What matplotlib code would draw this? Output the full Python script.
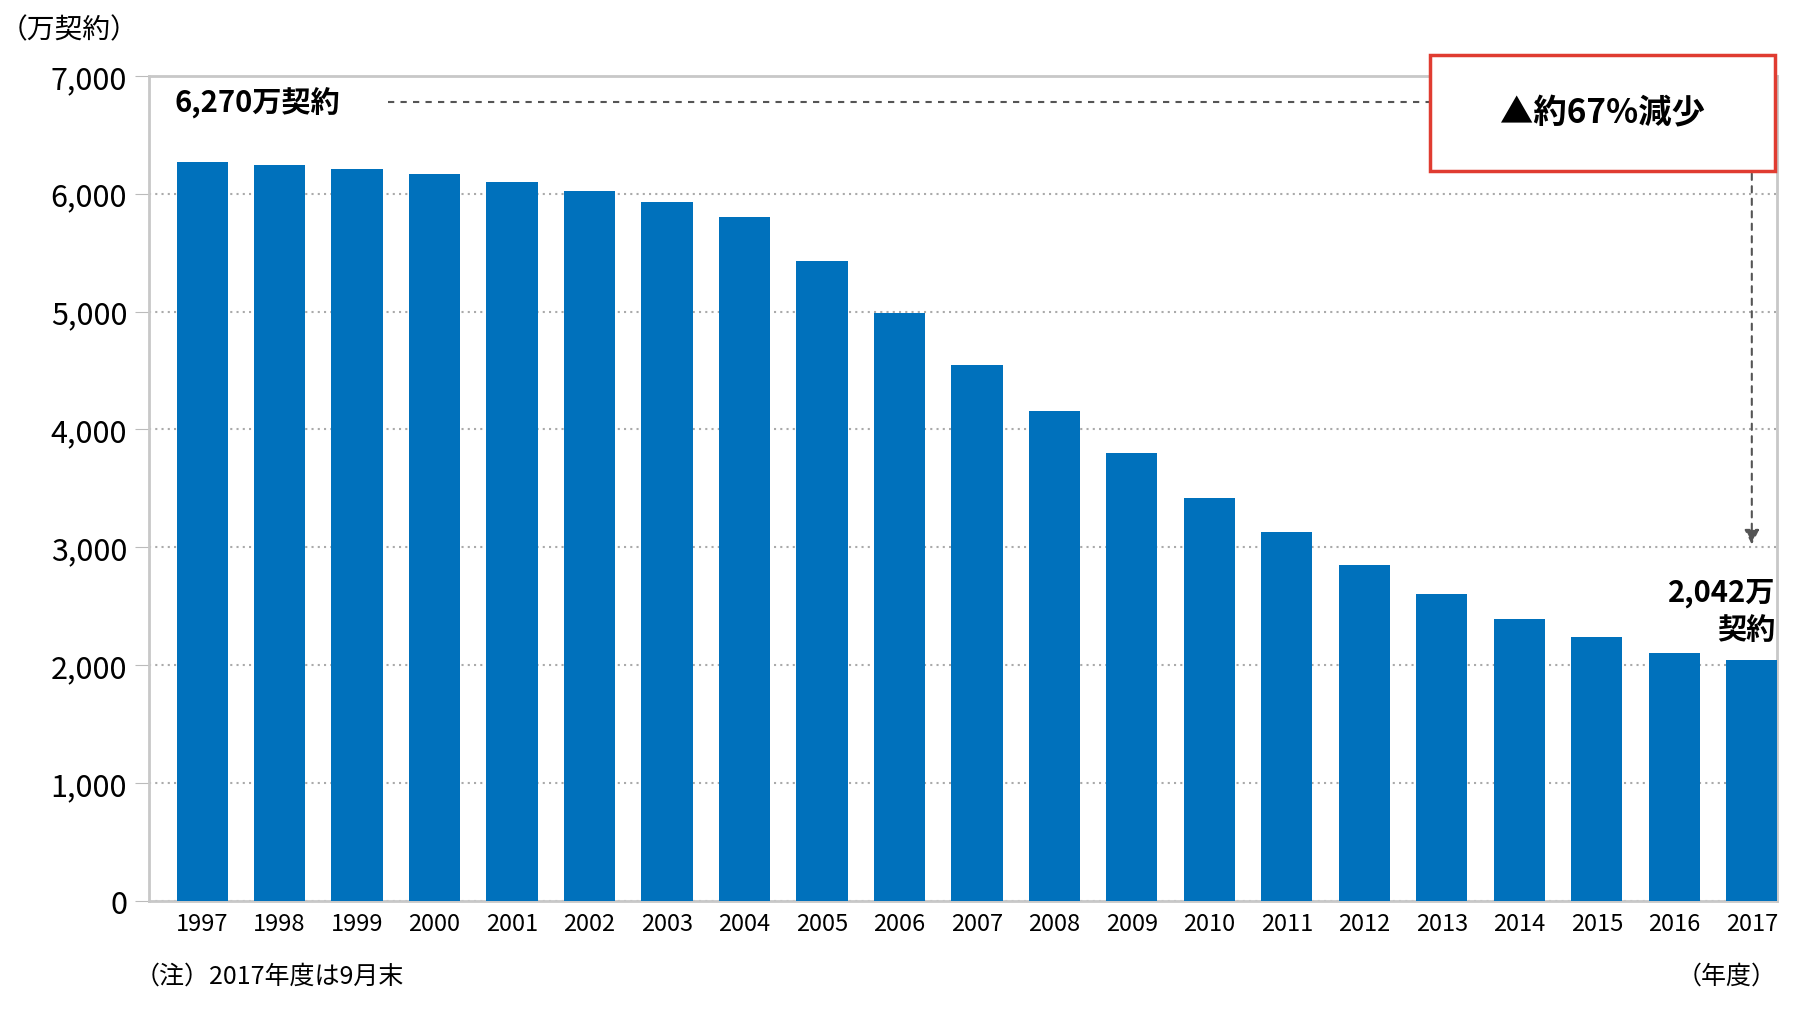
import matplotlib
matplotlib.use("Agg")
import matplotlib.pyplot as plt
from matplotlib.patches import Rectangle

plt.rcParams['font.family'] = ['Noto Sans CJK JP', 'DejaVu Sans']

years = [str(y) for y in range(1997, 2018)]
values = [6270, 6240, 6210, 6170, 6100, 6020, 5930, 5800, 5430, 4990, 4550,
          4160, 3800, 3420, 3130, 2850, 2600, 2390, 2240, 2100, 2042]
yticks = [0, 1000, 2000, 3000, 4000, 5000, 6000, 7000]

fig = plt.figure(figsize=(18, 10.12), dpi=100)
ax = fig.add_axes([0.083, 0.109, 0.904, 0.815])
x = list(range(len(years)))
ax.bar(x, values, width=0.66, color="#0071bc", zorder=3)
ax.set_xlim(-0.68, len(years) - 0.68)
ax.set_ylim(0, 7000)
ax.set_yticks(yticks)
ax.set_yticklabels([f"{v:,}" for v in yticks], fontsize=22)
ax.set_xticks(x)
ax.set_xticklabels(years, fontsize=17, stretch="condensed")
ax.tick_params(axis="y", length=10, color="#bbbbbb", pad=6)
ax.tick_params(axis="x", length=0, pad=8)
for s in ax.spines.values():
    s.set_color("#c8c8c8")
    s.set_linewidth(2)
ax.yaxis.grid(True, linestyle=(0, (1, 2)), color="#aaaaaa", linewidth=1.5, zorder=0)

# annotations
ax.text(-0.35, 6780, "6,270万契約", fontsize=21, fontweight="bold", va="center")
ax.plot([2.4, 16.9], [6780, 6780], ls=(0, (3, 3)), color="#555555", lw=1.5)
ax.add_patch(Rectangle((0.787, 0.885), 0.212, 0.14, transform=ax.transAxes,
                       fill=True, facecolor="white", edgecolor="#e03c31",
                       lw=2.5, zorder=5, clip_on=False))
ax.text(0.893, 0.955, "▲約67%減少", transform=ax.transAxes, fontsize=24,
        fontweight="bold", ha="center", va="center", zorder=6)
ax.annotate("", xy=(20, 3000), xytext=(20, 6300),
            arrowprops=dict(arrowstyle="-|>", ls=(0, (3, 3)), color="#555555",
                            lw=1.5, mutation_scale=22))
ax.text(20.3, 2750, "2,042万\n契約", fontsize=21, fontweight="bold",
        ha="right", va="top", linespacing=1.3)

fig.text(0.0, 0.985, "（万契約）", fontsize=20, va="top")
fig.text(0.075, 0.035, "（注）2017年度は9月末", fontsize=18, va="center")
fig.text(0.987, 0.035, "（年度）", fontsize=18, va="center", ha="right")

fig.savefig("out.png", dpi=100)
